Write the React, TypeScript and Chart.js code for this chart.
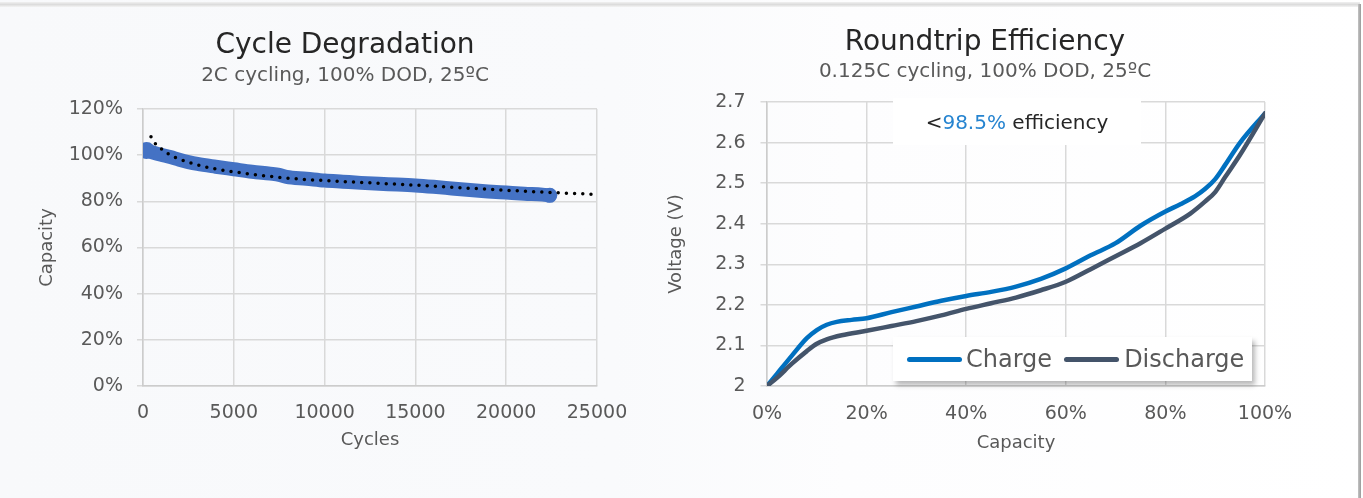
import React, { useEffect, useRef } from "react";
import { Chart, registerables } from "chart.js";

Chart.register(...registerables);

const FONT = "'DejaVu Sans', 'Noto Sans', sans-serif";

// ---------- Cycle Degradation ----------
const bandCycles = [200, 500, 1000, 1500, 2000, 2500, 3000, 4000, 5000, 6000, 7000, 7500, 7900, 9000, 10000, 11000, 12000, 13000, 14000, 15000, 16000, 17000, 18000, 19000, 20000, 21000, 22000, 22400];
const bandCapacity = [102.0, 101.3, 100.2, 99.2, 98.0, 97.0, 96.2, 95.0, 93.9, 92.8, 92.0, 91.5, 90.6, 89.8, 89.0, 88.5, 88.0, 87.6, 87.3, 86.9, 86.3, 85.6, 84.9, 84.3, 83.8, 83.3, 82.9, 82.6];
const trendCycles = [440, 700, 1000, 1400, 1800, 2300, 3000, 4000, 5000, 6000, 7000, 8000, 10000, 12500, 15000, 17500, 20000, 22500, 25000];
const trendCapacity = [108.0, 104.8, 102.8, 100.5, 98.9, 97.5, 95.8, 94.0, 92.8, 91.7, 90.8, 90.0, 89.0, 88.0, 87.0, 85.9, 84.8, 83.8, 83.0];
const cycleTickStep = 5000;
const cycleMax = 25000;
const capacityTickStep = 20;
const capacityMax = 120;

// ---------- Roundtrip Efficiency ----------
const chargeSoc = [0, 2, 5, 8, 10, 12, 14, 17, 20, 25, 30, 35, 40, 45, 50, 55, 60, 65, 70, 75, 80, 83, 86, 88, 90, 92, 95, 100];
const chargeVoltage = [2.0, 2.03, 2.075, 2.118, 2.138, 2.151, 2.158, 2.163, 2.167, 2.182, 2.196, 2.21, 2.222, 2.232, 2.245, 2.264, 2.29, 2.322, 2.352, 2.395, 2.43, 2.448, 2.468, 2.486, 2.51, 2.545, 2.6, 2.672];
const dischargeSoc = [0, 2, 5, 8, 10, 12, 15, 20, 25, 30, 35, 40, 45, 50, 55, 60, 65, 70, 75, 80, 85, 88, 90, 92, 95, 100];
const dischargeVoltage = [2.0, 2.02, 2.055, 2.086, 2.104, 2.115, 2.125, 2.136, 2.148, 2.16, 2.174, 2.19, 2.204, 2.218, 2.236, 2.257, 2.288, 2.32, 2.352, 2.388, 2.425, 2.455, 2.478, 2.515, 2.57, 2.672];
const voltageMin = 2.0;
const voltageMax = 2.7;
const voltageStep = 0.1;
const socStep = 20;

const toPoints = (xs: number[], ys: number[]) => xs.map((x, i) => ({ x, y: ys[i] }));

const GRID = "#d9d9d9";
const AXIS = "#cccccc";
const TICK = "#595959";

function CycleChart() {
  const ref = useRef<HTMLCanvasElement | null>(null);
  useEffect(() => {
    if (!ref.current) return;
    const last = bandCycles.length - 1;
    const chart = new Chart(ref.current, {
      type: "scatter",
      data: {
        datasets: [
          {
            label: "Trend",
            data: toPoints(trendCycles, trendCapacity),
            showLine: true,
            borderColor: "#000000",
            borderWidth: 3.5,
            borderDash: [0, 8.2],
            borderCapStyle: "round",
            pointRadius: 0,
            cubicInterpolationMode: "monotone",
            order: 0,
          } as any,
          {
            label: "Capacity",
            data: toPoints(bandCycles, bandCapacity),
            showLine: true,
            borderColor: "#4472C4",
            backgroundColor: "#4472C4",
            borderWidth: 14,
            borderCapStyle: "round",
            borderJoinStyle: "round",
            pointBorderWidth: 0,
            pointRadius: (c: any) => (c.dataIndex === 0 ? 8.5 : c.dataIndex === last ? 7.5 : 0),
            cubicInterpolationMode: "monotone",
            order: 1,
          } as any,
        ],
      },
      options: {
        responsive: false,
        animation: false,
        events: [],
        layout: { padding: { top: 109, left: 0, right: 93, bottom: 0 } },
        plugins: { legend: { display: false }, tooltip: { enabled: false } },
        scales: {
          x: {
            type: "linear",
            min: 0,
            max: cycleMax,
            ticks: {
              stepSize: cycleTickStep,
              padding: 16,
              color: TICK,
              font: { size: 19, family: FONT },
              maxRotation: 0,
              callback: (v: any) => String(v),
            },
            grid: { color: GRID, lineWidth: 1.5, drawTicks: false },
            border: { color: AXIS, width: 1.5 },
            title: {
              display: true,
              text: "Cycles",
              color: TICK,
              font: { size: 18, family: FONT },
              padding: { top: 0, bottom: 47 },
            },
            afterFit: (s: any) => {
              s.height = 112;
            },
          },
          y: {
            type: "linear",
            min: 0,
            max: capacityMax,
            ticks: {
              stepSize: capacityTickStep,
              padding: 14,
              color: TICK,
              font: { size: 19, family: FONT },
              callback: (v: any) => v + "%",
            },
            grid: { color: GRID, lineWidth: 1.5, tickLength: 6 },
            border: { color: AXIS, width: 1.5 },
            title: {
              display: true,
              text: "Capacity",
              color: TICK,
              font: { size: 18, family: FONT },
              padding: { top: 37, bottom: 0 },
            },
            afterFit: (s: any) => {
              s.width = 143;
            },
          },
        },
      } as any,
    });
    return () => chart.destroy();
  }, []);
  return <canvas ref={ref} width={690} height={498} style={{ position: "absolute", left: 0, top: 0, width: 690, height: 498 }} />;
}

function EfficiencyChart() {
  const ref = useRef<HTMLCanvasElement | null>(null);
  useEffect(() => {
    if (!ref.current) return;
    const chart = new Chart(ref.current, {
      type: "scatter",
      data: {
        datasets: [
          {
            label: "Discharge",
            data: toPoints(dischargeSoc, dischargeVoltage),
            showLine: true,
            borderColor: "#44546A",
            borderWidth: 4.5,
            borderCapStyle: "round",
            borderJoinStyle: "round",
            pointRadius: 0,
            cubicInterpolationMode: "monotone",
            order: 0,
          } as any,
          {
            label: "Charge",
            data: toPoints(chargeSoc, chargeVoltage),
            showLine: true,
            borderColor: "#0070C0",
            borderWidth: 4.5,
            borderCapStyle: "round",
            borderJoinStyle: "round",
            pointRadius: 0,
            cubicInterpolationMode: "monotone",
            order: 1,
          } as any,
        ],
      },
      options: {
        responsive: false,
        animation: false,
        events: [],
        layout: { padding: { top: 102, left: 0, right: 45, bottom: 0 } },
        plugins: { legend: { display: false }, tooltip: { enabled: false } },
        scales: {
          x: {
            type: "linear",
            min: 0,
            max: 100,
            ticks: {
              stepSize: socStep,
              padding: 17,
              color: TICK,
              font: { size: 19, family: FONT },
              maxRotation: 0,
              callback: (v: any) => v + "%",
            },
            grid: { color: GRID, lineWidth: 1.5, drawTicks: false },
            border: { color: AXIS, width: 1.5 },
            title: {
              display: true,
              text: "Capacity",
              color: TICK,
              font: { size: 18, family: FONT },
              padding: { top: 0, bottom: 44 },
            },
            afterFit: (s: any) => {
              s.height = 112;
            },
          },
          y: {
            type: "linear",
            min: voltageMin,
            max: voltageMax,
            ticks: {
              stepSize: voltageStep,
              padding: 15,
              color: TICK,
              font: { size: 19, family: FONT },
              callback: (v: any) => String(Number(Number(v).toFixed(1))),
            },
            grid: { color: GRID, lineWidth: 1.5, tickLength: 6.5 },
            border: { color: AXIS, width: 1.5 },
            title: {
              display: true,
              text: "Voltage (V)",
              color: TICK,
              font: { size: 18, family: FONT },
              padding: { top: 16, bottom: 0 },
            },
            afterFit: (s: any) => {
              s.width = 117;
            },
          },
        },
      } as any,
    });
    return () => chart.destroy();
  }, []);
  return <canvas ref={ref} width={660} height={498} style={{ position: "absolute", left: 650, top: 0, width: 660, height: 498 }} />;
}

const centered = (cx: number, cy: number, size: number, color: string): React.CSSProperties => ({
  position: "absolute",
  left: cx - 300,
  width: 600,
  top: cy - size * 0.6,
  height: size * 1.2,
  lineHeight: `${size * 1.2}px`,
  fontSize: size,
  color,
  textAlign: "center",
  whiteSpace: "nowrap",
  fontFamily: FONT,
});

export default function App() {
  return (
    <div
      style={{
        position: "absolute",
        left: 0,
        top: 0,
        width: 1363,
        height: 498,
        overflow: "hidden",
        background: "linear-gradient(to right, #f8f9fb 0%, #f9fafc 45%, #fdfdfe 62%, #ffffff 100%)",
        fontFamily: FONT,
      }}
    >
      <div style={{ position: "absolute", left: 0, top: 2, width: 1360, height: 5, background: "linear-gradient(#f0f0f0, #dcdcdc, #f3f3f3)" }} />
      <div style={{ position: "absolute", left: 1358, top: 4, width: 3, height: 494, background: "linear-gradient(to right, #c4c4c4, #9a9a9a)" }} />
      <CycleChart />
      <EfficiencyChart />
      <div style={centered(345, 44, 28, "#262626")}>Cycle Degradation</div>
      <div style={centered(345, 73.5, 20, "#595959")}>2C cycling, 100% DOD, 25ºC</div>
      <div style={centered(985, 41, 28, "#262626")}>Roundtrip Efficiency</div>
      <div style={centered(985, 70, 20, "#595959")}>0.125C cycling, 100% DOD, 25ºC</div>
      <div style={{ position: "absolute", left: 893, top: 98, width: 248, height: 47, background: "#ffffff" }}>
        <div style={{ ...centered(124, 24, 20, "#262626") }}>
          &lt;<span style={{ color: "#2684D0" }}>98.5%</span> efficiency
        </div>
      </div>
      <div
        style={{
          position: "absolute",
          left: 893,
          top: 337,
          width: 359,
          height: 44,
          background: "#ffffff",
          boxShadow: "3px 4px 5px rgba(0,0,0,0.28)",
          display: "flex",
          alignItems: "center",
          fontSize: 24,
          color: "#595959",
          whiteSpace: "nowrap",
        }}
      >
        <span style={{ display: "inline-block", marginLeft: 14, width: 55, height: 5, borderRadius: 3, background: "#0070C0" }} />
        <span style={{ marginLeft: 4 }}>Charge</span>
        <span style={{ display: "inline-block", marginLeft: 12, width: 55, height: 5, borderRadius: 3, background: "#44546A" }} />
        <span style={{ marginLeft: 5 }}>Discharge</span>
      </div>
    </div>
  );
}
